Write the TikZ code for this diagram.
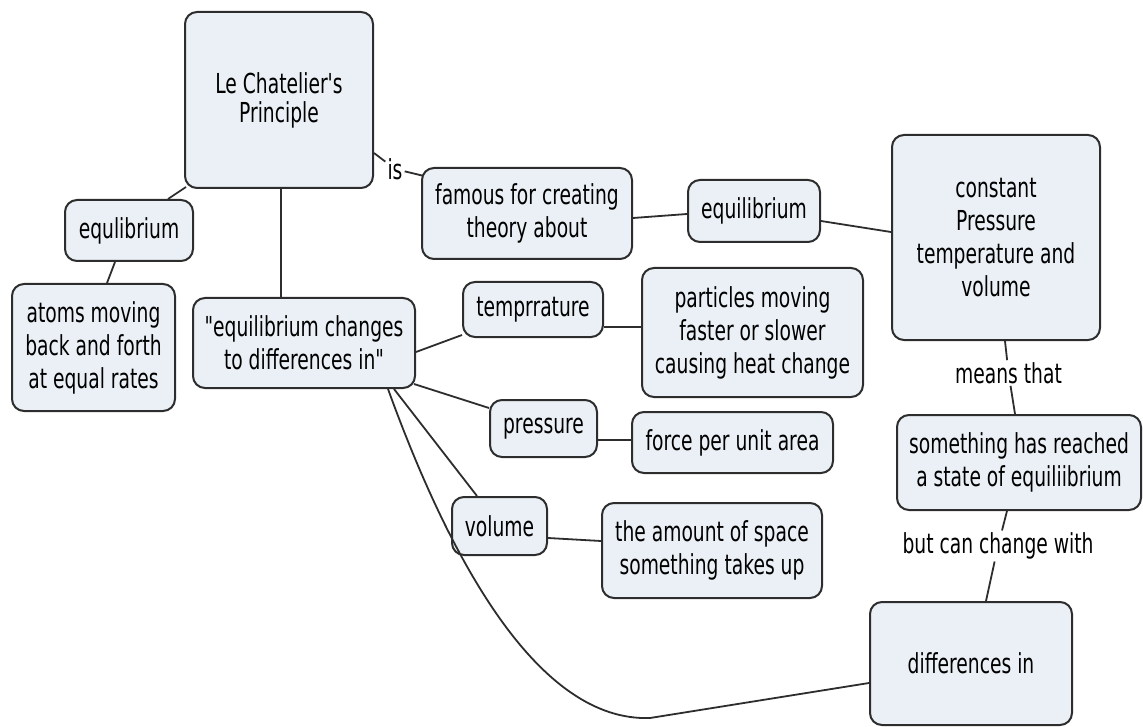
\documentclass[tikz,border=0pt]{standalone}
\usepackage{fontspec}
\usetikzlibrary{calc}
% condensed sans face for all concepts and linking words
\newfontfamily\conceptface{DejaVu Sans}[FakeStretch=0.68]
\newcommand\conceptfont{\conceptface\fontsize{27.5}{33}\selectfont}
\newcommand\titlefont{\conceptface\fontsize{27.5}{29}\selectfont}
\definecolor{boxfill}{RGB}{234,240,245}
\definecolor{ink}{RGB}{45,45,45}
\begin{document}
\begin{tikzpicture}[x=1pt,y=-1pt,
  concept/.style={draw=ink, line width=2pt, fill=boxfill, rounded corners=12pt,
                  inner sep=0pt, align=center, font=\conceptfont},
  linkword/.style={inner sep=2pt, font=\conceptfont},
  link/.style={draw=ink, line width=1.8pt}]
\useasboundingbox (0,0) rectangle (1143,727);

% concepts
\node[concept, font=\titlefont, minimum width=188pt, minimum height=176pt] (lc) at (279,100)
  {Le Chatelier's\\Principle};
\node[concept, minimum width=128pt, minimum height=61pt] (eqL) at (129,230.5) {equlibrium};
\node[concept, minimum width=163pt, minimum height=127pt] (atoms) at (93.5,347.5)
  {atoms moving\\back and forth\\at equal rates};
\node[concept, minimum width=222pt, minimum height=90pt] (chg) at (304,343)
  {"equilibrium changes\\to differences in"};
\node[concept, minimum width=210pt, minimum height=91pt] (famous) at (527,213.5)
  {famous for creating\\theory about};
\node[concept, minimum width=132pt, minimum height=62pt] (eqM) at (754,211) {equilibrium};
\node[concept, minimum width=208pt, minimum height=205pt] (const) at (996,237.5)
  {constant\\Pressure\\temperature and\\volume};
\node[concept, minimum width=140pt, minimum height=55pt] (temp) at (533,309.5) {temprrature};
\node[concept, minimum width=221pt, minimum height=129pt] (part) at (752.5,332.5)
  {particles moving\\faster or slower\\causing heat change};
\node[concept, minimum width=107pt, minimum height=57pt] (press) at (543.5,428.5) {pressure};
\node[concept, minimum width=201pt, minimum height=61pt] (force) at (732.5,442.5) {force per unit area};
\node[concept, minimum width=95pt, minimum height=58pt] (vol) at (499.5,526) {volume};
\node[concept, minimum width=220pt, minimum height=95pt] (amount) at (712,550.5)
  {the amount of space\\something takes up};
\node[concept, minimum width=244pt, minimum height=95pt] (some) at (1019,462.5)
  {something has reached\\a state of equiliibrium};
\node[concept, minimum width=202pt, minimum height=123pt] (diff) at (971,663.5) {differences in};

% linking words
\node[linkword] (is) at (395,169) {is};
\node[linkword] (means) at (1008.5,373) {means that};
\node[linkword] (but) at (998,546) {but can change with};

% connectors
\draw[link] ($(lc.south west)+(2,-2)$) -- ($(eqL.north)+(39,0)$);
\draw[link] ($(eqL.south)+(-14,0)$) -- ($(atoms.north)+(13.5,0)$);
\draw[link] ($(lc.south)+(2,0)$) -- ($(chg.north)+(-23,0)$);
\draw[link] ($(lc.east)+(0,53)$) -- (is);
\draw[link] (is) -- ($(famous.west)+(1,-38)$);
\draw[link] ($(famous.east)+(0,4.5)$) -- ($(eqM.west)+(0,3)$);
\draw[link] ($(eqM.east)+(0,10)$) -- ($(const.west)+(0,-5.5)$);
\draw[link] ($(const.south)+(9,0)$) -- (means);
\draw[link] (means) -- ($(some.north)+(-4,0)$);
\draw[link] ($(some.south)+(-12,0)$) -- (but);
\draw[link] (but) -- ($(diff.north)+(15,0)$);
\draw[link] ($(chg.east)+(0,9)$) -- ($(temp.west)+(0,25.5)$);
\draw[link] ($(temp.east)+(0,17.5)$) -- ($(part.west)+(0,-5.5)$);
\draw[link] ($(chg.south east)+(-2,-5)$) -- ($(press.west)+(0,-20.5)$);
\draw[link] ($(press.east)+(0,11.5)$) -- ($(force.west)+(0,-2.5)$);
\draw[link] ($(chg.south east)+(-22,0)$) -- ($(vol.north)+(-22.5,0)$);
\draw[link] ($(vol.east)+(0,12)$) -- ($(amount.west)+(0,-9.5)$);
\coordinate (dip) at (650,718);
\draw[link] ($(chg.south east)+(-28,0)$) .. controls (450,560) and (538,722) .. (dip)
  -- ($(diff.west)+(0,19.5)$);
\end{tikzpicture}
\end{document}
